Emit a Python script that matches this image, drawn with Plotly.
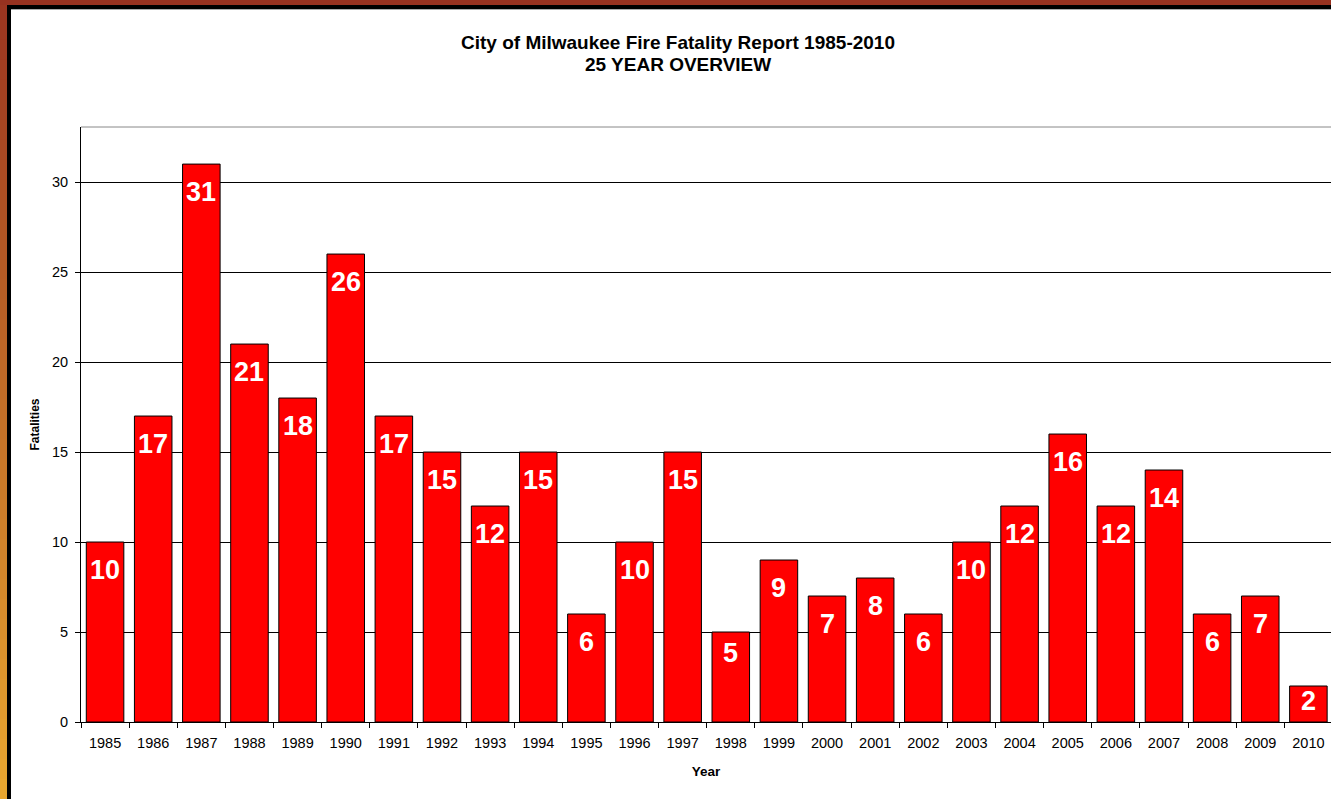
import plotly.graph_objects as go

years = [str(y) for y in range(1985, 2011)]
fatalities = [10, 17, 31, 21, 18, 26, 17, 15, 12, 15, 6, 10, 15, 5, 9, 7, 8, 6, 10, 12, 16, 12, 14, 6, 7, 2]
title_line1 = "City of Milwaukee Fire Fatality Report 1985-2010"
title_line2 = "25 YEAR OVERVIEW"

W, H = 1331, 799
ML, MR, MT, MB = 81, 0, 127, 77
PW, PH = W - ML - MR, H - MT - MB


def px(x):
    return (x - ML) / PW


def py(y):
    return (H - MB - y) / PH


fig = go.Figure()
fig.add_trace(go.Bar(
    x=years, y=fatalities,
    marker=dict(color="#ff0000", line=dict(color="black", width=1)),
    hoverinfo="x+y",
))

ann = []
for i, v in enumerate(fatalities):
    shift = -28 if v >= 6 else (-21 if v >= 5 else -15)
    ann.append(dict(x=i, y=v, xref="x", yref="y", text=f"<b>{v}</b>", showarrow=False,
                    yanchor="middle", xanchor="center", yshift=shift,
                    font=dict(family="Arial, Liberation Sans", size=27, color="white")))

ann.append(dict(x=px(678), y=py(42), xref="paper", yref="paper", showarrow=False,
                text=f"<b>{title_line1}</b>", yanchor="middle", xanchor="center",
                font=dict(family="Arial, Liberation Sans", size=19, color="black")))
ann.append(dict(x=px(678), y=py(65), xref="paper", yref="paper", showarrow=False,
                text=f"<b>{title_line2}</b>", yanchor="middle", xanchor="center",
                font=dict(family="Arial, Liberation Sans", size=19, color="black")))

shapes = []
# left gradient strip
top_c = (0x9b, 0x34, 0x20)
bot_c = (0xea, 0xa8, 0x30)
N = 40
for i in range(N):
    t = (i + 0.5) / N
    c = tuple(int(a + (b - a) * t) for a, b in zip(top_c, bot_c))
    y0 = H * i / N
    y1 = min(H * (i + 1) / N + 1, H)
    shapes.append(dict(type="rect", xref="paper", yref="paper",
                       x0=px(0), x1=px(7), y0=py(y0), y1=py(y1),
                       fillcolor="rgb(%d,%d,%d)" % c, line=dict(width=0)))
# top strip
shapes.append(dict(type="rect", xref="paper", yref="paper", x0=px(0), x1=px(W), y0=py(0), y1=py(5),
                   fillcolor="#983220", line=dict(width=0)))
# black borders
shapes.append(dict(type="rect", xref="paper", yref="paper", x0=px(7), x1=px(11), y0=py(5), y1=py(H),
                   fillcolor="black", line=dict(width=0)))
shapes.append(dict(type="rect", xref="paper", yref="paper", x0=px(7), x1=px(W), y0=py(5), y1=py(9),
                   fillcolor="black", line=dict(width=0)))
shapes.append(dict(type="line", xref="paper", yref="paper", x0=px(11), x1=px(W), y0=py(9.5), y1=py(9.5),
                   line=dict(color="#aaaaaa", width=1)))
# plot top border
shapes.append(dict(type="line", xref="paper", yref="paper", x0=0, x1=1, y0=1, y1=1,
                   line=dict(color="#888888", width=1)))

fig.update_layout(
    width=W, height=H,
    margin=dict(l=ML, r=MR, t=MT, b=MB, pad=0),
    paper_bgcolor="white", plot_bgcolor="white",
    bargap=0.22, showlegend=False,
    font=dict(family="Arial, Liberation Sans", color="black"),
    xaxis=dict(type="category", range=[-0.5, 25.47], showline=True, linecolor="black", linewidth=1,
               ticks="outside", ticklen=5, tickcolor="black", tickson="boundaries",
               tickfont=dict(size=14.5), showgrid=False, ticklabelstandoff=8,
               title=dict(text="<b>Year</b>", font=dict(size=13.5), standoff=16)),
    yaxis=dict(range=[0, 33.06], dtick=5, showline=True, linecolor="black", linewidth=1,
               ticks="outside", ticklen=5, tickcolor="black", tickfont=dict(size=14.5),
               ticklabelstandoff=4,
               showgrid=True, gridcolor="black", gridwidth=1, zeroline=False,
               title=dict(text="<b>Fatalities</b>", font=dict(size=12), standoff=9)),
    annotations=ann, shapes=shapes,
)

fig.write_html("out.html", config={"displayModeBar": False},
               post_script="document.body.style.margin='0';document.body.style.overflow='hidden';")
